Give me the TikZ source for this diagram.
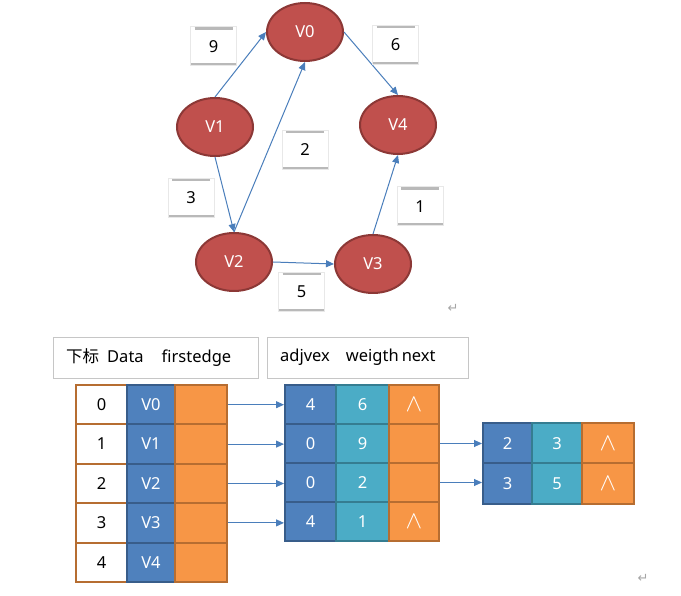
\documentclass[tikz,border=0pt]{standalone}
\usepackage{fontspec}
\setmainfont{Noto Sans}
\newfontfamily\cjk{Noto Sans CJK SC}
\newfontfamily\symf{DejaVu Sans}
\usetikzlibrary{shapes.geometric,arrows.meta}
\definecolor{vred}{HTML}{C0504D}
\definecolor{vdark}{HTML}{8C3836}
\definecolor{ablue}{HTML}{4A7EBB}
\definecolor{cblue}{HTML}{4F81BD}
\definecolor{cbluedk}{HTML}{385D8A}
\definecolor{cteal}{HTML}{4BACC6}
\definecolor{ctealdk}{HTML}{357D91}
\definecolor{corange}{HTML}{F79646}
\definecolor{cbrown}{HTML}{B66D31}
\tikzset{
  txt/.style={font=\fontsize{16.5}{18}\selectfont},
  vtx/.style={ellipse, draw=vdark, line width=2pt, fill=vred, minimum width=76pt, minimum height=58pt, inner sep=0pt, text=white, txt},
  edge/.style={draw=ablue, line width=1pt, -{Triangle[length=8pt,width=7pt]}},
  lbl/.style={rectangle, fill=white, draw=gray!18, line width=1pt, minimum width=46pt, minimum height=39pt, inner sep=0pt, txt,
    path picture={
      \draw[gray!55, line width=2.5pt] ([xshift=4pt,yshift=-1.5pt]path picture bounding box.north west) -- ([xshift=-4pt,yshift=-1.5pt]path picture bounding box.north east);
      \draw[gray!55, line width=2.5pt] ([yshift=1.5pt]path picture bounding box.south west) -- ([yshift=1.5pt]path picture bounding box.south east);}},
  hdr/.style={rectangle, draw=gray!45, line width=0.8pt, minimum height=41pt, inner sep=0pt, txt},
  cell/.style={rectangle, line width=2pt, inner sep=0pt, txt},
  cw/.style={cell, fill=white, draw=cbrown, minimum width=51pt, minimum height=39.4pt},
  cv/.style={cell, fill=cblue, draw=cbluedk, text=white, minimum width=48pt, minimum height=39.4pt},
  co/.style={cell, fill=corange, draw=cbrown, text=white, minimum width=52pt, minimum height=39.4pt},
  cb/.style={cell, fill=cblue, draw=cbluedk, text=white, minimum height=39pt},
  ct/.style={cell, fill=cteal, draw=ctealdk, text=white, minimum height=39pt},
  cn/.style={cell, fill=corange, draw=cbrown, text=white, minimum height=39pt},
  ret/.style={text=gray!70, font=\symf\fontsize{13}{14}\selectfont, inner sep=0pt},
}
\newcommand{\nil}{{\fontsize{24}{24}\selectfont$\wedge$}}
\begin{document}
\begin{tikzpicture}[x=1pt,y=-1pt]
\useasboundingbox[fill=white] (0,0) rectangle (681,596);

% graph
\node[vtx] (v0) at (305,32) {V0};
\node[vtx] (v1) at (215,127) {V1};
\node[vtx] (v4) at (398,125) {V4};
\node[vtx] (v2) at (234,262) {V2};
\node[vtx] (v3) at (373,264) {V3};

\draw[edge] (v1.north) -- (v0.west);
\draw[edge] (v2.north) -- (v0.south);
\draw[edge] (v1.south) -- (v2.north);
\draw[edge] (v0.east) -- (v4.north);
\draw[edge] (v2.east) -- (v3.west);
\draw[edge] (v3.north) -- (v4.south);

\node[lbl] (l9) at (213.5,46.5) {9};
\node[lbl] (l6) at (395.5,45) {6};
\node[lbl] (l2) at (305,150) {2};
\node[lbl] (l3) at (191,198) {3};
\node[lbl] (l1) at (420,206.5) {1};
\node[lbl] (l5) at (301.5,292) {5};

\node[ret] (r1) at (453,308) {↵};
\node[ret] (r2) at (643,578) {↵};

% headers
\node[hdr, minimum width=205pt] (h1) at (155.5,357.5) {};
\node[txt, anchor=west, inner sep=0pt] (h1t) at (66,357.5) {{\cjk 下标}\hspace{8pt}Data\hspace{18pt}firstedge};
\node[hdr, minimum width=201pt] (h2) at (367.5,357.5) {};
\node[txt, anchor=west, inner sep=0pt] (h2t) at (280,357.5) {adjvex\hspace{16pt}weigth\hspace{3pt}next};

% vertex table
\foreach \i/\v in {0/V0,1/V1,2/V2,3/V3,4/V4}{
  \pgfmathsetmacro{\yy}{404.7+39.4*\i}
  \node[cw] (w\i) at (101.5,\yy) {\i};
  \node[cv] (d\i) at (151,\yy) {\v};
  \node[co] (f\i) at (201,\yy) {};
}

% edge table 1
\node[cb, minimum width=51pt] (a0) at (310.5,404.5) {4};
\node[ct, minimum width=53pt] (b0) at (362.5,404.5) {6};
\node[cn, minimum width=50pt] (c0) at (414,404.5) {\nil};
\node[cb, minimum width=51pt] (a1) at (310.5,443.5) {0};
\node[ct, minimum width=53pt] (b1) at (362.5,443.5) {9};
\node[cn, minimum width=50pt] (c1) at (414,443.5) {};
\node[cb, minimum width=51pt] (a2) at (310.5,482.5) {0};
\node[ct, minimum width=53pt] (b2) at (362.5,482.5) {2};
\node[cn, minimum width=50pt] (c2) at (414,482.5) {};
\node[cb, minimum width=51pt] (a3) at (310.5,521.5) {4};
\node[ct, minimum width=53pt] (b3) at (362.5,521.5) {1};
\node[cn, minimum width=50pt] (c3) at (414,521.5) {\nil};

% edge table 2
\node[cb, minimum width=49pt, minimum height=40.5pt] (p1) at (507.5,443.3) {2};
\node[ct, minimum width=50pt, minimum height=40.5pt] (q1) at (557,443.3) {3};
\node[cn, minimum width=52pt, minimum height=40.5pt] (s1) at (608,443.3) {\nil};
\node[cb, minimum width=49pt, minimum height=40.5pt] (p2) at (507.5,483.7) {3};
\node[ct, minimum width=50pt, minimum height=40.5pt] (q2) at (557,483.7) {5};
\node[cn, minimum width=52pt, minimum height=40.5pt] (s2) at (608,483.7) {\nil};

% pointers
\foreach \i in {0,1,2,3}{
  \draw[edge] (f\i.east) -- (f\i.east -| a\i.west);
}
\draw[edge] (c1.east) -- (c1.east -| p1.west);
\draw[edge] (c2.east) -- (c2.east -| p2.west);
\end{tikzpicture}
\end{document}
